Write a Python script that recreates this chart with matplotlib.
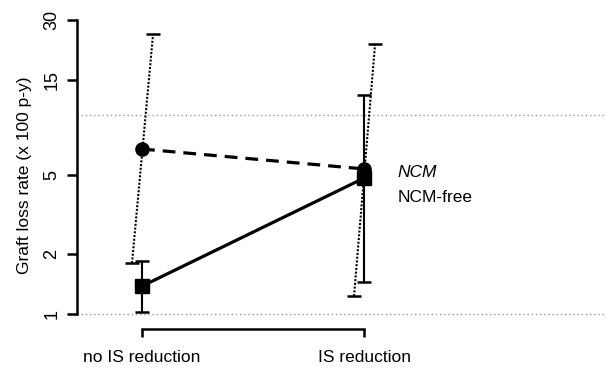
import matplotlib
matplotlib.use("Agg")
import matplotlib.pyplot as plt
import numpy as np

plt.rcParams['font.family'] = ['Liberation Sans', 'DejaVu Sans']

groups = ["no IS reduction", "IS reduction"]
ncm_rate = [6.75, 5.36]
ncm_lo = [1.80, 1.23]
ncm_hi = [25.6, 22.8]
free_rate = [1.38, 4.82]
free_lo = [1.02, 1.45]
free_hi = [1.85, 12.6]
yticks = [1, 2, 5, 15, 30]
ref_lines = [1, 10]

x = np.arange(len(groups))

fig = plt.figure(figsize=(6.06, 3.72), dpi=100)
ax = fig.add_axes([77/606, 32/372, 529/606, 330/372])
ax.set_yscale('log')
ax.set_ylim(np.exp(-26/86.4), np.exp(304/86.4))
ax.set_xlim(-65/222, 464/222)

# reference lines
for r in ref_lines:
    ax.axhline(r, color='#999999', lw=1, ls=(0, (1, 2)), zorder=1)

# NCM: slanted dotted intervals
for xi, lo, hi in zip(x, ncm_lo, ncm_hi):
    ax.plot([xi - 0.045, xi + 0.05], [lo, hi], color='black', lw=1.5, ls=(0, (1, 0.8)), zorder=2)
    ax.plot([xi - 0.045], [lo], marker='_', ms=10, mew=1.8, color='black')
    ax.plot([xi + 0.05], [hi], marker='_', ms=10, mew=1.8, color='black')

# NCM-free: solid intervals
ax.errorbar(x, free_rate, yerr=[np.array(free_rate) - free_lo, np.array(free_hi) - free_rate],
            fmt='none', ecolor='black', elinewidth=1.5, capsize=5, capthick=1.8, zorder=2)

ax.plot(x, ncm_rate, color='black', lw=2.3, ls=(0, (4, 2.5)), marker='o', ms=9.5, zorder=3)
ax.plot(x, free_rate, color='black', lw=2.3, marker='s', ms=9.5, zorder=3)

ax.text(1.15, ncm_rate[1] * 0.965, "NCM", style='italic', fontsize=12.5, va='center', ha='left')
ax.text(1.15, free_rate[1] * 0.80, "NCM-free", fontsize=12.5, va='center', ha='left')

for s in ['top', 'right']:
    ax.spines[s].set_visible(False)
ax.spines['left'].set_bounds(1, 30)
ax.spines['left'].set_linewidth(1.8)
ax.spines['bottom'].set_bounds(0, 1)
ax.spines['bottom'].set_position(('axes', 11/330))
ax.spines['bottom'].set_linewidth(1.8)

ax.set_yticks(yticks)
ax.set_yticklabels([str(t) for t in yticks], rotation=90, va='center', fontsize=13)
ax.minorticks_off()
ax.tick_params(axis='y', length=7, width=1.8, pad=5)
ax.set_xticks(x)
ax.set_xticklabels(groups, fontsize=12.5)
ax.tick_params(axis='x', length=6, width=1.8, pad=9)
ax.set_ylabel("Graft loss rate (x 100 p-y)", fontsize=12.5, labelpad=8)

fig.savefig("out.png", dpi=100)
